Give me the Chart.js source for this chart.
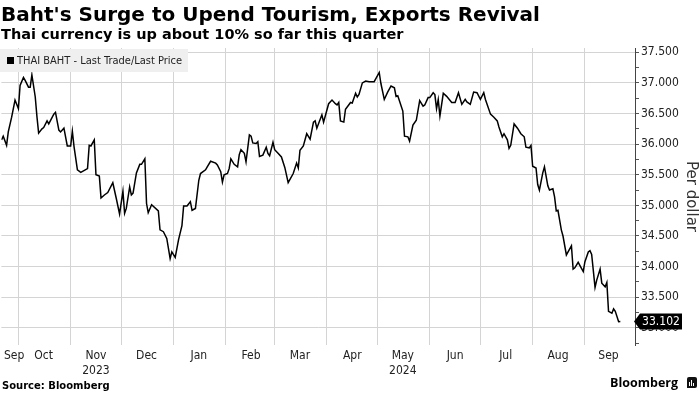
<!DOCTYPE html>
<html>
<head>
<meta charset="utf-8">
<script src="https://cdn.jsdelivr.net/npm/chart.js@4/dist/chart.umd.min.js"></script>
<style>
body { margin: 0; width: 700px; height: 394px; position: relative; overflow: hidden; background: #fff; font-family: "DejaVu Sans", sans-serif; }
#title { position: absolute; left: 1px; top: 4px; font: bold 20px/20px "DejaVu Sans", sans-serif; color: #000; white-space: nowrap; }
#subtitle { position: absolute; left: 1px; top: 27px; font: bold 14.5px/14.5px "DejaVu Sans", sans-serif; color: #000; white-space: nowrap; }
#legend { position: absolute; left: 0; top: 49px; width: 188px; height: 23px; background: #efefef; font: 11px/23px "DejaVu Sans Condensed", "DejaVu Sans", sans-serif; color: #222; white-space: nowrap; }
#legend span { display: inline-block; width: 7px; height: 7px; background: #000; margin: 0 3px 0 7px; vertical-align: 0; }
#source { position: absolute; left: 2px; top: 381px; font: bold 10px/10px "DejaVu Sans", sans-serif; color: #000; }
#logo { position: absolute; right: 22px; top: 376px; font: bold 12.5px/13px "Open Sans", sans-serif; color: #000; }
#icon { position: absolute; left: 687px; top: 377px; width: 10px; height: 11px; background: #111; border-radius: 2px 2px 2px 0; }
#icon i { position: absolute; bottom: 2px; width: 1px; background: #fff; }
canvas { position: absolute; left: 0; top: 0; }
</style>
</head>
<body>
<canvas id="chart" width="700" height="394"></canvas>
<div id="title">Baht's Surge to Upend Tourism, Exports Revival</div>
<div id="subtitle">Thai currency is up about 10% so far this quarter</div>
<div id="legend"><span></span>THAI BAHT - Last Trade/Last Price</div>
<div id="source">Source: Bloomberg</div>
<div id="logo">Bloomberg</div>
<div id="icon"><i style="left:2px;height:4px"></i><i style="left:4px;height:6px"></i><i style="left:6px;height:3px"></i></div>
<script>
// days counted from 2023-09-01
var days = [20,21,23,24,26,28,30,31,33,34,36,37,38,40,41,42,44,45,47,48,
  51,52,54,55,57,59,61,62,63,65,67,71,72,73,75,76,78,79,81,83,
  86,88,90,92,93,94,96,97,98,100,102,103,105,106,107,109,113,114,116,118,
  120,121,123,125,127,128,130,132,133,135,137,138,141,142,144,147,148,150,151,152,
  154,155,156,158,160,161,162,164,165,167,168,169,171,172,173,175,177,178,179,181,
  182,184,186,188,190,193,195,196,197,199,201,203,205,206,207,210,211,214,216,218,
  219,220,221,223,224,227,228,230,231,232,234,236,238,241,242,244,245,247,249,251,
  253,254,255,258,259,261,262,264,266,268,270,271,273,274,276,277,278,279,280,282,
  284,287,289,291,293,295,296,298,300,302,304,306,307,310,312,314,315,317,318,320,
  321,322,324,326,328,330,331,333,334,335,337,338,339,341,342,344,345,347,348,349,
  350,352,353,355,356,358,359,360,362,365,366,368,369,370,372,373,375,376,378,379,
  380,382,383,384,386,387];
var baht = [36.07,36.13,35.98,36.20,36.44,36.72,36.58,36.96,37.09,37.04,
  36.93,36.93,37.13,36.77,36.45,36.18,36.25,36.27,36.38,36.33,
  36.49,36.52,36.23,36.20,36.26,35.97,35.97,36.21,35.96,35.58,
  35.54,35.60,35.98,35.97,36.07,35.50,35.48,35.12,35.17,35.21,
  35.37,35.12,34.86,35.23,34.87,34.95,35.30,35.17,35.20,35.53,
  35.67,35.67,35.76,35.03,34.88,35.01,34.91,34.60,34.57,34.46,
  34.13,34.24,34.15,34.44,34.67,34.99,34.99,35.06,34.92,34.95,
  35.41,35.52,35.58,35.63,35.72,35.69,35.66,35.55,35.38,35.50,
  35.52,35.60,35.76,35.67,35.63,35.83,35.91,35.85,35.71,36.15,
  36.13,36.02,36.01,36.04,35.80,35.82,35.95,35.85,35.81,36.03,
  35.91,35.85,35.79,35.62,35.37,35.52,35.69,35.61,35.90,35.97,
  36.17,36.08,36.36,36.38,36.26,36.48,36.36,36.66,36.72,36.66,
  36.64,36.68,36.38,36.36,36.57,36.68,36.67,36.83,36.77,36.81,
  37.00,37.03,37.02,37.02,37.07,37.17,36.99,36.73,36.85,36.95,
  36.92,36.78,36.79,36.54,36.13,36.12,36.05,36.31,36.39,36.71,
  36.62,36.64,36.76,36.76,36.84,36.81,36.58,36.73,36.46,36.83,
  36.78,36.68,36.68,36.84,36.65,36.73,36.69,36.65,36.85,36.84,
  36.73,36.84,36.73,36.49,36.44,36.38,36.28,36.12,36.17,36.07,
  35.93,35.98,36.33,36.26,36.17,36.12,35.95,35.94,35.98,35.64,
  35.61,35.34,35.25,35.53,35.63,35.32,35.25,35.27,35.14,34.91,
  34.92,34.60,34.50,34.19,34.24,34.34,33.96,33.98,34.07,33.92,
  34.08,34.24,34.26,34.20,33.66,33.78,33.96,33.73,33.67,33.74,
  33.27,33.24,33.31,33.27,33.10,33.102];

// month starts (grid) and mid-month label positions, same day count
var monthStarts = [30,61,91,122,153,182,213,243,274,304,335,366];
var labelDays = [27.5,45,76,106,137,168,197,228,258,289,319,350,380];
var monthLabels = [['Sep'],['Oct'],['Nov','2023'],['Dec'],['Jan'],['Feb'],['Mar'],['Apr'],['May','2024'],['Jun'],['Jul'],['Aug'],['Sep']];
var yTicks = [32.75,33,33.25,33.5,33.75,34,34.25,34.5,34.75,35,35.25,35.5,35.75,36,36.25,36.5,36.75,37,37.25,37.5];

var xMin = 19.9, xMax = 395.7;

var lastTag = {
  id: 'lastTag',
  afterDraw: function(chart) {
    var c = chart.ctx;
    var v = baht[baht.length - 1];
    var y = chart.scales.y.getPixelForValue(v);
    var x = chart.chartArea.right;
    c.save();
    c.fillStyle = '#000';
    c.beginPath();
    c.moveTo(x - 1, y);
    c.lineTo(x + 5, y - 8);
    c.lineTo(x + 47, y - 8);
    c.lineTo(x + 47, y + 8);
    c.lineTo(x + 5, y + 8);
    c.closePath();
    c.fill();
    c.fillStyle = '#fff';
    c.font = '12px "DejaVu Sans Condensed", "DejaVu Sans", sans-serif';
    c.textAlign = 'center';
    c.textBaseline = 'middle';
    c.fillText(v.toFixed(3), x + 26, y + 0.5);
    c.restore();
  }
};

var tickFont = { family: '"DejaVu Sans Condensed", "DejaVu Sans", sans-serif', size: 12 };

new Chart(document.getElementById('chart').getContext('2d'), {
  type: 'line',
  data: {
    datasets: [{
      label: 'THAI BAHT - Last Trade/Last Price',
      data: days.map(function(d, i) { return { x: d, y: baht[i] }; }),
      borderColor: '#000',
      borderWidth: 1.5,
      pointRadius: 0,
      tension: 0,
      xAxisID: 'x',
      yAxisID: 'y'
    }]
  },
  options: {
    responsive: false,
    animation: false,
    devicePixelRatio: 1,
    layout: { padding: { top: 48, left: 0, right: 0, bottom: 16 } },
    plugins: { legend: { display: false }, tooltip: { enabled: false } },
    scales: {
      x: {
        type: 'linear', position: 'bottom', min: xMin, max: xMax,
        afterBuildTicks: function(s) { s.ticks = labelDays.map(function(v) { return { value: v }; }); },
        afterFit: function(s) { s.height = 33; },
        grid: { display: false, drawTicks: false, tickLength: 0 },
        border: { display: false },
        ticks: {
          autoSkip: false, maxRotation: 0, padding: 4, color: '#222', font: tickFont,
          callback: function(v, i) { return monthLabels[i]; }
        }
      },
      xg: {
        type: 'linear', position: 'bottom', min: xMin, max: xMax,
        afterBuildTicks: function(s) { s.ticks = monthStarts.map(function(v) { return { value: v }; }); },
        afterFit: function(s) { s.height = 0; },
        grid: { color: '#d4d4d4', borderDash: [1, 2], drawTicks: false },
        border: { display: false },
        ticks: { display: false, autoSkip: false }
      },
      y: {
        position: 'right', min: 32.72, max: 37.57,
        afterBuildTicks: function(s) { s.ticks = yTicks.map(function(v) { return { value: v }; }); },
        afterFit: function(s) { s.width = 65; },
        grid: {
          color: function(ctx) { return ctx.tick && ctx.tick.value % 0.5 === 0 ? '#d4d4d4' : 'rgba(0,0,0,0)'; },
          borderDash: [1, 2],
          tickColor: '#555',
          tickBorderDash: [],
          tickLength: 4
        },
        border: { display: true, color: '#444', width: 1 },
        ticks: {
          autoSkip: false, padding: 2, color: '#222', font: tickFont,
          callback: function(v) { return v % 0.5 === 0 ? v.toFixed(3) : ''; }
        },
        title: {
          display: true, text: 'Per dollar', color: '#333', padding: 0,
          font: { family: '"DejaVu Sans", sans-serif', size: 15 }
        }
      }
    }
  },
  plugins: [lastTag]
});
</script>
</body>
</html>
